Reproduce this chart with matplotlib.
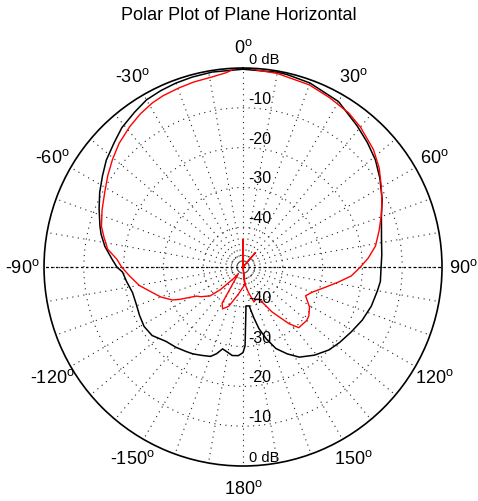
import numpy as np
import matplotlib
matplotlib.use('Agg')
import matplotlib.pyplot as plt

plt.rcParams['font.family'] = ['Liberation Sans', 'DejaVu Sans']
plt.rcParams['mathtext.fontset'] = 'custom'
plt.rcParams['mathtext.rm'] = 'Liberation Sans'
plt.rcParams['mathtext.default'] = 'regular'

title = "Polar Plot of Plane Horizontal"
r_min, r_max = -50, 0
ring_levels = [-10, -20, -30, -40]
inner_rings = [-47]
ring_labels_top = ["0 dB", "-10", "-20", "-30", "-40"]
ring_labels_bottom = ["0 dB", "-10", "-20", "-30", "-40"]
ring_label_values = [0, -10, -20, -30, -40]
angle_ticks = [0, 30, 60, 90, 120, 150, 180, -150, -120, -90, -60, -30]
spoke_step = 10

black_angles = [0, 10, 13, 20, 30, 39, 45, 51, 57, 64, 70, 78.6, 85, 90, 96, 100,
                107, 114, 121, 128, 134, 141, 148, 153, 158, 162, 165.5, 168, 171,
                175.6, 178.5, 180, 183, 187, 190, 194, 197, 200, 205, 210, 214, 220,
                226, 233, 239, 245, 251, 257, 263, 267.6, 270, 273.5, 278.5, 283,
                286, 292, 297.5, 303, 308, 314, 319, 325, 330, 335, 340, 345, 351, 360]
black_db = [-0.3, -0.3, -0.4, -0.8, -2.0, -4.4, -5.8, -7.2, -9.0, -11.1, -13.0, -14.5,
            -15.0, -15.3, -15.3, -15.7, -16.3, -17.2, -18.3, -19.2, -20.0, -21.5, -23.3,
            -25.5, -27.9, -31.0, -34.0, -37.0, -40.1, -40.2, -30.2, -28.5, -27.7, -27.6,
            -28.2, -28.8, -27.2, -26.1, -25.5, -24.8, -24.4, -23.7, -23.1, -21.4, -21.0,
            -21.3, -21.6, -21.5, -20.5, -19.7, -18.3, -17.0, -14.9, -13.4, -12.6, -11.0,
            -9.4, -7.9, -6.4, -5.0, -3.6, -2.5, -1.5, -1.1, -0.8, -0.6, -0.4, -0.3]

red_angles = [0, 2, 4, 10, 20, 27, 34.4, 40, 48, 54, 59.8, 65, 69.8, 75, 81, 86, 90,
              94.7, 98.9, 104, 110, 114.7, 121, 126.6, 130, 137.4, 141, 147.2, 153.4,
              158, 162.6, 168, 175, 180, 0, 0, 40.8, 40, 173, 190, 200, 206, 210, 215,
              220, 225, 228.7, 235, 238, 243, 245, 250, 255.7, 260, 265.5, 270, 273.6,
              277.5, 282, 286, 292, 298.4, 304, 309.5, 315, 321, 326, 331, 335, 340.4,
              345, 350.8, 355, 358, 360]
red_db = [0.0, 0.0, -0.4, -0.6, -1.3, -2.2, -3.05, -4.1, -5.9, -7.7, -9.8, -11.5, -13.0,
          -14.6, -16.3, -18.5, -20.5, -22.7, -25.7, -28.8, -31.5, -32.7, -30.5, -29.4,
          -29.1, -29.3, -31.7, -36.6, -41.0, -41.3, -40.8, -43.5, -46.0, -50.0, -43.0,
          -50.0, -45.2, -50.0, -45.7, -43.0, -39.5, -38.3, -39.5, -48.0, -46.0, -42.0,
          -39.0, -37.0, -36.2, -32.1, -30.4, -28.0, -25.7, -23.5, -21.4, -19.5, -18.2,
          -15.7, -14.3, -13.0, -11.8, -10.5, -9.0, -7.5, -6.0, -4.7, -3.7, -2.9, -2.5,
          -2.2, -1.9, -1.6, -1.0, 0.0, 0.0]

fig = plt.figure(figsize=(4.78, 5.02), dpi=100)
ax = fig.add_axes([0.0921, 0.0697, 0.8326, 0.7928], projection='polar')
ax.set_theta_zero_location('N')
ax.set_theta_direction(-1)
ax.set_rlim(r_min, r_max)
ax.set_thetagrids(np.arange(0, 360, spoke_step), labels=[])
ax.set_rgrids(inner_rings + ring_levels[::-1], labels=[])
ax.grid(True, color='#222222', linestyle=(0, (1, 4)), linewidth=0.8)
ax.spines['polar'].set_linewidth(1.2)
ax.spines['polar'].set_color('k')

# horizontal axis line (dashed)
for th in (90, 270):
    ax.plot(np.deg2rad([th, th]), [r_min, r_max], color='k',
            linestyle=(0, (2, 2)), linewidth=0.9)

ax.plot(np.deg2rad(black_angles), black_db, color='k', linewidth=1.1)
ax.plot(np.deg2rad(red_angles), red_db, color='#ff0000', linewidth=1.0)

# angle labels
for a in angle_ticks:
    ax.text(np.deg2rad(a % 360), 5.4, '%d$^o$' % a, ha='center', va='center',
            fontsize=13, clip_on=False)

# ring labels
for th, labs in ((0, ring_labels_top), (np.pi, ring_labels_bottom)):
    for lab, v in zip(labs, ring_label_values):
        ax.annotate(lab, xy=(th, v), xytext=(4, 1.5), textcoords='offset points',
                    ha='left', va='bottom', fontsize=10.5 if v == 0 else 11.5)

fig.text(0.5, 1 - 16 / 502, title, ha='center', va='center', fontsize=13)

fig.savefig('out.png', dpi=100)
